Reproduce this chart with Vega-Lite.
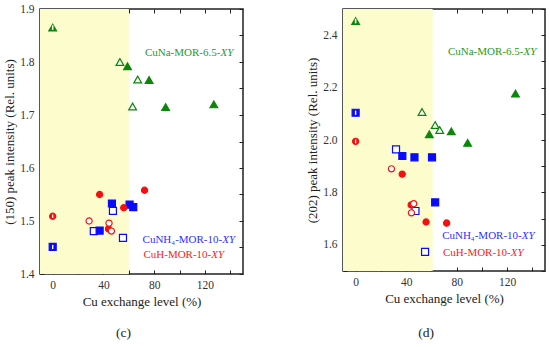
{
  "$schema": "https://vega.github.io/schema/vega-lite/v6.json",
  "padding": {"left": 2, "top": 2, "right": 5, "bottom": 0},
  "spacing": 60,
  "config": {
    "view": {"stroke": "#222", "strokeWidth": 1.5},
    "font": "Liberation Serif",
    "axis": {"labelFont": "Liberation Serif", "titleFont": "Liberation Serif", "labelFontSize": 11.5, "titleFontSize": 13, "titleFontWeight": "normal", "labelColor": "#333", "titleColor": "#222", "domain": false, "tickColor": "#222", "tickWidth": 1, "grid": false}
  },
  "datasets": {
    "pts": [
      {"panel": "c", "series": "CuNa", "kind": "half", "x": 0, "y": 1.865},
      {"panel": "c", "series": "CuNa", "kind": "open", "x": 53, "y": 1.800},
      {"panel": "c", "series": "CuNa", "kind": "filled", "x": 59, "y": 1.792},
      {"panel": "c", "series": "CuNa", "kind": "open", "x": 67, "y": 1.767},
      {"panel": "c", "series": "CuNa", "kind": "filled", "x": 76, "y": 1.766},
      {"panel": "c", "series": "CuNa", "kind": "open", "x": 63, "y": 1.716},
      {"panel": "c", "series": "CuNa", "kind": "filled", "x": 89, "y": 1.715},
      {"panel": "c", "series": "CuNa", "kind": "filled", "x": 127, "y": 1.720},
      {"panel": "c", "series": "CuNH4", "kind": "half", "x": 0, "y": 1.451},
      {"panel": "c", "series": "CuNH4", "kind": "open", "x": 32.4, "y": 1.481},
      {"panel": "c", "series": "CuNH4", "kind": "filled", "x": 37, "y": 1.482},
      {"panel": "c", "series": "CuNH4", "kind": "filled", "x": 46.7, "y": 1.533},
      {"panel": "c", "series": "CuNH4", "kind": "open", "x": 47.5, "y": 1.519},
      {"panel": "c", "series": "CuNH4", "kind": "open", "x": 55.4, "y": 1.468},
      {"panel": "c", "series": "CuNH4", "kind": "filled", "x": 60.6, "y": 1.531},
      {"panel": "c", "series": "CuNH4", "kind": "filled", "x": 63.5, "y": 1.526},
      {"panel": "c", "series": "CuH", "kind": "half", "x": 0, "y": 1.509},
      {"panel": "c", "series": "CuH", "kind": "open", "x": 28.7, "y": 1.500},
      {"panel": "c", "series": "CuH", "kind": "filled", "x": 37, "y": 1.550},
      {"panel": "c", "series": "CuH", "kind": "filled", "x": 44, "y": 1.485},
      {"panel": "c", "series": "CuH", "kind": "open", "x": 44.4, "y": 1.496},
      {"panel": "c", "series": "CuH", "kind": "open", "x": 46.3, "y": 1.481},
      {"panel": "c", "series": "CuH", "kind": "filled", "x": 56, "y": 1.525},
      {"panel": "c", "series": "CuH", "kind": "filled", "x": 72.4, "y": 1.558},
      {"panel": "d", "series": "CuNa", "kind": "half", "x": 0, "y": 2.454},
      {"panel": "d", "series": "CuNa", "kind": "open", "x": 52.6, "y": 2.107},
      {"panel": "d", "series": "CuNa", "kind": "filled", "x": 58.4, "y": 2.022},
      {"panel": "d", "series": "CuNa", "kind": "open", "x": 63, "y": 2.057},
      {"panel": "d", "series": "CuNa", "kind": "open", "x": 66.6, "y": 2.038},
      {"panel": "d", "series": "CuNa", "kind": "filled", "x": 75.8, "y": 2.033},
      {"panel": "d", "series": "CuNa", "kind": "filled", "x": 88.7, "y": 1.989},
      {"panel": "d", "series": "CuNa", "kind": "filled", "x": 126.6, "y": 2.177},
      {"panel": "d", "series": "CuNH4", "kind": "half", "x": 0, "y": 2.104},
      {"panel": "d", "series": "CuNH4", "kind": "open", "x": 32, "y": 1.964},
      {"panel": "d", "series": "CuNH4", "kind": "filled", "x": 37, "y": 1.939},
      {"panel": "d", "series": "CuNH4", "kind": "filled", "x": 46.6, "y": 1.934},
      {"panel": "d", "series": "CuNH4", "kind": "filled", "x": 60.5, "y": 1.934},
      {"panel": "d", "series": "CuNH4", "kind": "open", "x": 47.4, "y": 1.729},
      {"panel": "d", "series": "CuNH4", "kind": "filled", "x": 63, "y": 1.762},
      {"panel": "d", "series": "CuNH4", "kind": "open", "x": 55, "y": 1.573},
      {"panel": "d", "series": "CuH", "kind": "half", "x": 0, "y": 1.995},
      {"panel": "d", "series": "CuH", "kind": "open", "x": 28.4, "y": 1.890},
      {"panel": "d", "series": "CuH", "kind": "filled", "x": 36.9, "y": 1.870},
      {"panel": "d", "series": "CuH", "kind": "filled", "x": 44, "y": 1.752},
      {"panel": "d", "series": "CuH", "kind": "open", "x": 46, "y": 1.757},
      {"panel": "d", "series": "CuH", "kind": "open", "x": 44.2, "y": 1.722},
      {"panel": "d", "series": "CuH", "kind": "filled", "x": 55.8, "y": 1.687},
      {"panel": "d", "series": "CuH", "kind": "filled", "x": 72.1, "y": 1.683}
    ],
    "labs": [
      {"panel": "c", "series": "CuNa", "x": 132.2, "y": 1.8175, "main": "CuNa-MOR-6.5-", "ital": "XY"},
      {"panel": "c", "series": "CuNH4", "x": 133.6, "y": 1.4636, "main": "CuNH₄-MOR-10-", "ital": "XY"},
      {"panel": "c", "series": "CuH", "x": 125, "y": 1.4353, "main": "CuH-MOR-10-", "ital": "XY"},
      {"panel": "d", "series": "CuNa", "x": 132.9, "y": 2.334, "main": "CuNa-MOR-6.5-", "ital": "XY"},
      {"panel": "d", "series": "CuNH4", "x": 131.6, "y": 1.633, "main": "CuNH₄-MOR-10-", "ital": "XY"},
      {"panel": "d", "series": "CuH", "x": 122.9, "y": 1.569, "main": "CuH-MOR-10-", "ital": "XY"}
    ],
    "shade": [
      {"panel": "c", "x0": -10, "x1": 60},
      {"panel": "d", "x0": -10, "x1": 61}
    ]
  },
  "hconcat": [
    {
      "width": 203,
      "height": 265,
      "title": {"text": "(c)", "orient": "bottom", "frame": "bounds", "anchor": "middle", "fontSize": 13.5, "fontWeight": "normal", "font": "Liberation Serif", "color": "#222", "offset": 17},
      "resolve": {"axis": {"x": "independent", "y": "independent"}},
      "layer": [
        {
          "data": {"name": "shade"},
          "transform": [{"filter": "datum.panel === 'c'"}],
          "mark": {"type": "rect", "color": "#fdfccc"},
          "encoding": {
            "x": {"field": "x0", "type": "quantitative", "scale": {"domain": [-10, 150], "nice": false, "zero": false}, "axis": null},
            "x2": {"field": "x1"}
          }
        },
        {
          "data": {"name": "pts"},
          "transform": [{"filter": "datum.panel === 'c'"}],
          "mark": {"type": "point", "filled": false, "strokeWidth": 1.2, "opacity": 1},
          "encoding": {
            "x": {"field": "x", "type": "quantitative", "scale": {"domain": [-10, 150], "nice": false, "zero": false},
              "axis": {"orient": "bottom", "values": [0, 20, 40, 60, 80, 100, 120, 140], "labelExpr": "datum.value % 40 === 0 ? datum.label : ''", "tickSize": -4, "labelPadding": 9, "title": "Cu exchange level (%)", "titlePadding": 5}},
            "y": {"field": "y", "type": "quantitative", "scale": {"domain": [1.4, 1.9], "nice": false, "zero": false},
              "axis": {"orient": "left", "values": [1.4, 1.45, 1.5, 1.55, 1.6, 1.65, 1.7, 1.75, 1.8, 1.85, 1.9], "labelExpr": "abs(datum.value * 10 - round(datum.value * 10)) < 0.01 ? format(datum.value, '.1f') : ''", "tickSize": -4, "labelPadding": 10, "title": "(150) peak intensity (Rel. units)", "titlePadding": 3}},
            "shape": {"field": "series", "type": "nominal", "scale": {"domain": ["CuNa", "CuNH4", "CuH"], "range": ["triangle-up", "square", "circle"]}, "legend": null},
            "size": {"field": "series", "type": "nominal", "scale": {"domain": ["CuNa", "CuNH4", "CuH"], "range": [60, 38, 44]}, "legend": null},
            "stroke": {"field": "series", "type": "nominal", "scale": {"domain": ["CuNa", "CuNH4", "CuH"], "range": ["#0a870a", "#0a0aff", "#f51010"]}, "legend": null},
            "fill": {"condition": {"test": "datum.kind === 'open'", "value": "#ffffff"}, "field": "series", "type": "nominal", "scale": {"domain": ["CuNa", "CuNH4", "CuH"], "range": ["#0a870a", "#0a0aff", "#f51010"]}, "legend": null}
          }
        },
        {
          "data": {"name": "pts"},
          "transform": [{"filter": "datum.panel === 'c' && datum.kind === 'half'"}],
          "mark": {"type": "point", "filled": true, "color": "#ffffff", "opacity": 1, "shape": "M-0.2,-0.6H0.2V0.6H-0.2Z"},
          "encoding": {
            "x": {"field": "x", "type": "quantitative", "axis": null},
            "y": {"field": "y", "type": "quantitative", "axis": null},
            "size": {"field": "series", "type": "nominal", "legend": null}
          }
        },
        {
          "data": {"name": "labs"},
          "transform": [{"filter": "datum.panel === 'c'"}],
          "mark": {"type": "text", "align": "right", "baseline": "middle", "fontSize": 11, "font": "Liberation Serif"},
          "encoding": {
            "x": {"field": "x", "type": "quantitative", "axis": null},
            "y": {"field": "y", "type": "quantitative", "axis": null},
            "text": {"field": "main"},
            "color": {"field": "series", "type": "nominal", "scale": {"domain": ["CuNa", "CuNH4", "CuH"], "range": ["#1f9a1f", "#3030ff", "#ff2020"]}, "legend": null}
          }
        },
        {
          "data": {"name": "labs"},
          "transform": [{"filter": "datum.panel === 'c'"}],
          "mark": {"type": "text", "align": "left", "baseline": "middle", "fontSize": 11, "font": "Liberation Serif", "fontStyle": "italic"},
          "encoding": {
            "x": {"field": "x", "type": "quantitative", "axis": null},
            "y": {"field": "y", "type": "quantitative", "axis": null},
            "text": {"field": "ital"},
            "color": {"field": "series", "type": "nominal", "legend": null}
          }
        },
        {
          "data": {"name": "pts"},
          "transform": [{"filter": "datum.panel === 'c'"}],
          "mark": {"type": "point", "opacity": 0},
          "encoding": {
            "x": {"field": "x", "type": "quantitative", "axis": {"orient": "top", "values": [0, 20, 40, 60, 80, 100, 120, 140], "labels": false, "tickSize": -4, "title": null}},
            "y": {"field": "y", "type": "quantitative", "axis": {"orient": "right", "values": [1.4, 1.45, 1.5, 1.55, 1.6, 1.65, 1.7, 1.75, 1.8, 1.85, 1.9], "labels": false, "tickSize": -4, "title": null}}
          }
        }
      ]
    },
    {
      "width": 202,
      "height": 262,
      "title": {"text": "(d)", "orient": "bottom", "frame": "bounds", "anchor": "middle", "fontSize": 13.5, "fontWeight": "normal", "font": "Liberation Serif", "color": "#222", "offset": 20},
      "resolve": {"axis": {"x": "independent", "y": "independent"}},
      "layer": [
        {
          "data": {"name": "shade"},
          "transform": [{"filter": "datum.panel === 'd'"}],
          "mark": {"type": "rect", "color": "#fdfccc"},
          "encoding": {
            "x": {"field": "x0", "type": "quantitative", "scale": {"domain": [-10, 150], "nice": false, "zero": false}, "axis": null},
            "x2": {"field": "x1"}
          }
        },
        {
          "data": {"name": "pts"},
          "transform": [{"filter": "datum.panel === 'd'"}],
          "mark": {"type": "point", "filled": false, "strokeWidth": 1.2, "opacity": 1},
          "encoding": {
            "x": {"field": "x", "type": "quantitative", "scale": {"domain": [-10, 150], "nice": false, "zero": false},
              "axis": {"orient": "bottom", "values": [0, 20, 40, 60, 80, 100, 120, 140], "labelExpr": "datum.value % 40 === 0 ? datum.label : ''", "tickSize": -4, "labelPadding": 9, "title": "Cu exchange level (%)", "titlePadding": 5}},
            "y": {"field": "y", "type": "quantitative", "scale": {"domain": [1.5, 2.5], "nice": false, "zero": false},
              "axis": {"orient": "left", "values": [1.5, 1.6, 1.7, 1.8, 1.9, 2.0, 2.1, 2.2, 2.3, 2.4, 2.5], "labelExpr": "round(datum.value * 10) % 2 === 0 && datum.value > 1.55 && datum.value < 2.45 ? format(datum.value, '.1f') : ''", "tickSize": -4, "labelPadding": 10, "title": "(202) peak intensity (Rel. units)", "titlePadding": 3}},
            "shape": {"field": "series", "type": "nominal", "scale": {"domain": ["CuNa", "CuNH4", "CuH"], "range": ["triangle-up", "square", "circle"]}, "legend": null},
            "size": {"field": "series", "type": "nominal", "scale": {"domain": ["CuNa", "CuNH4", "CuH"], "range": [60, 38, 44]}, "legend": null},
            "stroke": {"field": "series", "type": "nominal", "scale": {"domain": ["CuNa", "CuNH4", "CuH"], "range": ["#0a870a", "#0a0aff", "#f51010"]}, "legend": null},
            "fill": {"condition": {"test": "datum.kind === 'open'", "value": "#ffffff"}, "field": "series", "type": "nominal", "scale": {"domain": ["CuNa", "CuNH4", "CuH"], "range": ["#0a870a", "#0a0aff", "#f51010"]}, "legend": null}
          }
        },
        {
          "data": {"name": "pts"},
          "transform": [{"filter": "datum.panel === 'd' && datum.kind === 'half'"}],
          "mark": {"type": "point", "filled": true, "color": "#ffffff", "opacity": 1, "shape": "M-0.2,-0.6H0.2V0.6H-0.2Z"},
          "encoding": {
            "x": {"field": "x", "type": "quantitative", "axis": null},
            "y": {"field": "y", "type": "quantitative", "axis": null},
            "size": {"field": "series", "type": "nominal", "legend": null}
          }
        },
        {
          "data": {"name": "labs"},
          "transform": [{"filter": "datum.panel === 'd'"}],
          "mark": {"type": "text", "align": "right", "baseline": "middle", "fontSize": 11, "font": "Liberation Serif"},
          "encoding": {
            "x": {"field": "x", "type": "quantitative", "axis": null},
            "y": {"field": "y", "type": "quantitative", "axis": null},
            "text": {"field": "main"},
            "color": {"field": "series", "type": "nominal", "scale": {"domain": ["CuNa", "CuNH4", "CuH"], "range": ["#1f9a1f", "#3030ff", "#ff2020"]}, "legend": null}
          }
        },
        {
          "data": {"name": "labs"},
          "transform": [{"filter": "datum.panel === 'd'"}],
          "mark": {"type": "text", "align": "left", "baseline": "middle", "fontSize": 11, "font": "Liberation Serif", "fontStyle": "italic"},
          "encoding": {
            "x": {"field": "x", "type": "quantitative", "axis": null},
            "y": {"field": "y", "type": "quantitative", "axis": null},
            "text": {"field": "ital"},
            "color": {"field": "series", "type": "nominal", "legend": null}
          }
        },
        {
          "data": {"name": "pts"},
          "transform": [{"filter": "datum.panel === 'd'"}],
          "mark": {"type": "point", "opacity": 0},
          "encoding": {
            "x": {"field": "x", "type": "quantitative", "axis": {"orient": "top", "values": [0, 20, 40, 60, 80, 100, 120, 140], "labels": false, "tickSize": -4, "title": null}},
            "y": {"field": "y", "type": "quantitative", "axis": {"orient": "right", "values": [1.5, 1.6, 1.7, 1.8, 1.9, 2.0, 2.1, 2.2, 2.3, 2.4, 2.5], "labels": false, "tickSize": -4, "title": null}}
          }
        }
      ]
    }
  ]
}
